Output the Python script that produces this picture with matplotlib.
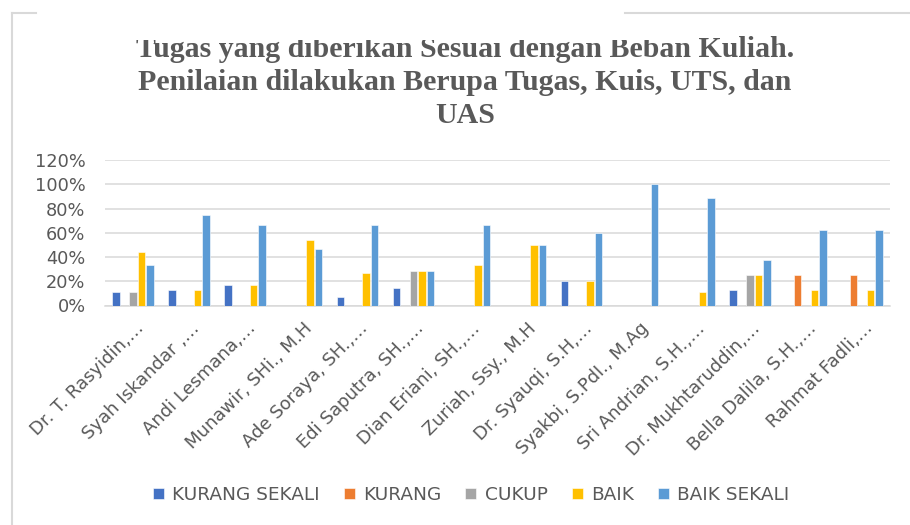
import numpy as np
import matplotlib
matplotlib.use("Agg")
import matplotlib.pyplot as plt
from matplotlib.patches import Rectangle
from matplotlib.lines import Line2D
import matplotlib.transforms as mtransforms

categories = [
    "Dr. T. Rasyidin,…", "Syah Iskandar ,…", "Andi Lesmana,…", "Munawir, SHi., M.H",
    "Ade Soraya, SH.,…", "Edi Saputra, SH.,…", "Dian Eriani, SH.,…", "Zuriah, Ssy., M.H",
    "Dr. Syauqi, S.H,…", "Syakbi, S.PdI., M.Ag", "Sri Andrian, S.H.,…", "Dr. Mukhtaruddin,…",
    "Bella Dalila, S.H.,…", "Rahmat Fadli,…",
]
series_names = ["KURANG SEKALI", "KURANG", "CUKUP", "BAIK", "BAIK SEKALI"]
kurang_sekali = [0.111, 0.125, 0.167, 0.0, 0.067, 0.143, 0.0, 0.0, 0.20, 0.0, 0.0, 0.125, 0.0, 0.0]
kurang        = [0.0, 0.0, 0.0, 0.0, 0.0, 0.0, 0.0, 0.0, 0.0, 0.0, 0.0, 0.0, 0.25, 0.25]
cukup         = [0.111, 0.0, 0.0, 0.0, 0.0, 0.286, 0.0, 0.0, 0.0, 0.0, 0.0, 0.25, 0.0, 0.0]
baik          = [0.444, 0.125, 0.167, 0.538, 0.267, 0.286, 0.333, 0.50, 0.20, 0.0, 0.111, 0.25, 0.125, 0.125]
baik_sekali   = [0.333, 0.75, 0.667, 0.462, 0.667, 0.286, 0.667, 0.50, 0.60, 1.0, 0.889, 0.375, 0.625, 0.625]
yticks = [0, 0.2, 0.4, 0.6, 0.8, 1.0, 1.2]
ytick_labels = ["0%", "20%", "40%", "60%", "80%", "100%", "120%"]
title_lines = ["Tugas yang diberikan Sesuai dengan Beban Kuliah.",
               "Penilaian dilakukan Berupa Tugas, Kuis, UTS, dan",
               "UAS"]
colors = ["#4472C4", "#ED7D31", "#A5A5A5", "#FFC000", "#5B9BD5"]

TXT = "#595959"
FONT = "DejaVu Sans"
W, H = 910, 525
fig = plt.figure(figsize=(W / 100, H / 100), dpi=100)
fig.patch.set_facecolor("white")

ax = fig.add_axes([105 / W, 1 - 305.5 / H, (890 - 105) / W, (305.5 - 160) / H])
data = [kurang_sekali, kurang, cukup, baik, baik_sekali]
x = np.arange(len(categories))
pitch = 0.152
width = 0.134
for i, (vals, c, name) in enumerate(zip(data, colors, series_names)):
    ax.bar(x + (i - 2) * pitch, vals, width=width, color=c, label=name,
           edgecolor="white", linewidth=0.4, zorder=3)

ax.set_xlim(-0.5, len(categories) - 0.5)
ax.set_ylim(0, 1.2)
ax.set_yticks(yticks)
ax.set_yticklabels(ytick_labels, fontfamily=FONT, fontsize=12.8, color=TXT)
ax.yaxis.grid(True, color="#d9d9d9", linewidth=1.1, zorder=0)
ax.set_axisbelow(True)
for s in ["top", "right", "left"]:
    ax.spines[s].set_visible(False)
ax.spines["bottom"].set_color("#d9d9d9")
ax.spines["bottom"].set_linewidth(1.1)
ax.tick_params(axis="both", length=0)
ax.tick_params(axis="y", pad=14)

ax.set_xticks(x)
ax.set_xticklabels([])
offset = mtransforms.ScaledTranslation(8 / 100, -20 / 100, fig.dpi_scale_trans)
for xi, name in zip(x, categories):
    ax.text(xi, 0, name, transform=ax.get_xaxis_transform() + offset,
            rotation=45, ha="right", va="center", rotation_mode="anchor",
            fontsize=13, fontfamily=FONT, color=TXT)

# title
baselines = [57, 90, 123]
for line, b in zip(title_lines, baselines):
    fig.text(465 / W, 1 - b / H, line, ha="center", va="baseline",
             fontsize=21.5, fontweight="bold", family="Liberation Serif", color=TXT)

# white box clipping top of title (as in screenshot)
fig.patches.append(Rectangle((36 / W, 1 - 39.5 / H), (665 - 36) / W, 39.5 / H,
                             transform=fig.transFigure, facecolor="white",
                             edgecolor="none", zorder=5))
# chart border fragments
fig.add_artist(Line2D([11.5 / W, 36 / W], [1 - 13 / H, 1 - 13 / H], color="#d9d9d9",
                      linewidth=1.5, transform=fig.transFigure, zorder=6))
fig.add_artist(Line2D([625 / W, 1.0], [1 - 13 / H, 1 - 13 / H], color="#d9d9d9",
                      linewidth=1.5, transform=fig.transFigure, zorder=6))
fig.add_artist(Line2D([11.5 / W, 11.5 / W], [1 - 13 / H, 0], color="#d9d9d9",
                      linewidth=1.5, transform=fig.transFigure, zorder=6))

# legend
handles, labels = ax.get_legend_handles_labels()
leg = fig.legend(handles, labels, loc="center", bbox_to_anchor=(471 / W, 1 - 495 / H),
                 ncol=5, frameon=False, prop={"family": FONT, "size": 13.3},
                 handlelength=0.6, handleheight=0.6, handletextpad=0.45,
                 columnspacing=1.3, labelcolor=TXT)

fig.savefig("out.png", dpi=100)
